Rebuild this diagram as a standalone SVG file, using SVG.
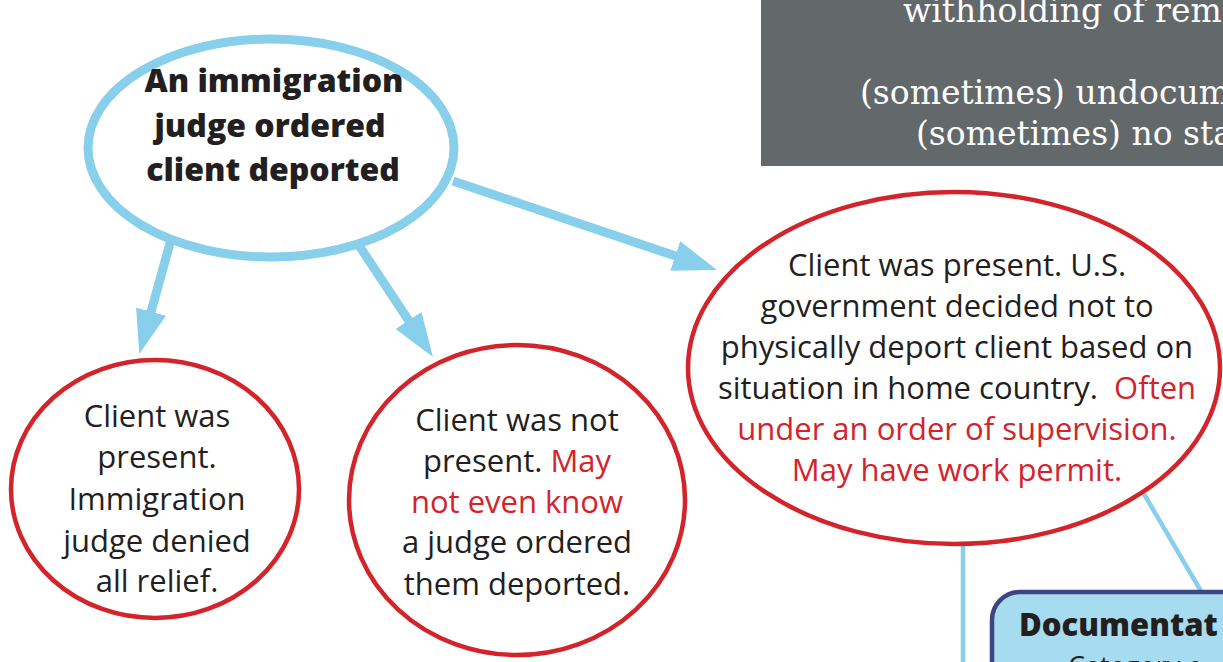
<svg xmlns="http://www.w3.org/2000/svg" width="1223" height="662" viewBox="0 0 1223 662">
<style>
.bg{fill:#ffffff}
.blue-ell{fill:#ffffff;stroke:#88cfeb;stroke-width:9}
.red-ell{fill:#ffffff;stroke:#d3242b;stroke-width:4.5}
.arrow{stroke:#88cfeb;stroke-width:9;fill:none}
.link{stroke:#88cfeb;stroke-width:4.5;fill:none}
.t{font-family:"Open Sans","Noto Sans",sans-serif;font-size:31px;fill:#231f20;text-anchor:middle}
.tb{font-family:"Open Sans","Noto Sans",sans-serif;font-size:32px;font-weight:800;fill:#231f20;text-anchor:middle}
.red{fill:#d3242b}
.grey{fill:#63686b}
.gt{font-family:"DejaVu Serif","Liberation Serif",serif;font-size:33px;fill:#ffffff}
.doc{fill:#a7dbf0;stroke:#3b4683;stroke-width:4.5}
</style>
<defs>
<marker id="ah" markerUnits="userSpaceOnUse" markerWidth="46" markerHeight="32" refX="2" refY="15.5" orient="auto" viewBox="0 0 46 32">
<path d="M0,0 L44,15.5 L0,31 Z" fill="#88cfeb"/>
</marker>
</defs>
<rect class="bg" x="0" y="0" width="1223" height="662"/>

<g id="status-box">
<rect class="grey" x="761" y="-10" width="480" height="176"/>
<text class="gt" x="903" y="22">withholding of rem</text>
<text class="gt" x="860" y="104">(sometimes) undocum</text>
<text class="gt" x="916" y="145">(sometimes) no sta</text>
</g>

<g id="connectors">
<line class="arrow" x1="172" y1="236" x2="150.5" y2="313.6" marker-end="url(#ah)"/>
<line class="arrow" x1="356" y1="241" x2="409.7" y2="322.1" marker-end="url(#ah)"/>
<line class="arrow" x1="453" y1="181" x2="677.2" y2="256.6" marker-end="url(#ah)"/>
<line class="link" x1="963" y1="540" x2="963" y2="670"/>
<line class="link" x1="1144" y1="494" x2="1205" y2="598"/>
</g>

<g id="node-ordered">
<ellipse class="blue-ell" cx="271" cy="148" rx="183" ry="109"/>
<text class="tb" x="274" y="92">An immigration</text>
<text class="tb" x="270" y="137">judge ordered</text>
<text class="tb" x="273" y="181">client deported</text>
</g>

<g id="node-denied">
<ellipse class="red-ell" cx="155" cy="489" rx="144" ry="129"/>
<text class="t" x="157" y="427">Client was</text>
<text class="t" x="157" y="468">present.</text>
<text class="t" x="157" y="510">Immigration</text>
<text class="t" x="157" y="552">judge denied</text>
<text class="t" x="157" y="592">all relief.</text>
</g>

<g id="node-absent">
<ellipse class="red-ell" cx="517" cy="500" rx="168" ry="155"/>
<text class="t" x="517" y="431">Client was not</text>
<text class="t" x="517" y="472">present. <tspan class="red">May</tspan></text>
<text class="t red" x="517" y="513">not even know</text>
<text class="t" x="517" y="553">a judge ordered</text>
<text class="t" x="517" y="595">them deported.</text>
</g>

<g id="node-supervision">
<ellipse class="red-ell" cx="954" cy="368" rx="266" ry="176"/>
<text class="t" x="957" y="276">Client was present. U.S.</text>
<text class="t" x="957" y="317">government decided not to</text>
<text class="t" x="957" y="358">physically deport client based on</text>
<text class="t" x="957" y="399" xml:space="preserve">situation in home country.  <tspan class="red">Often</tspan></text>
<text class="t red" x="957" y="440">under an order of supervision.</text>
<text class="t red" x="957" y="481">May have work permit.</text>
</g>

<g id="node-documentation">
<rect class="doc" x="992" y="592" width="400" height="200" rx="28"/>
<text font-family="Open Sans, Noto Sans, sans-serif" font-weight="800" font-size="31" fill="#231f20" x="1019" y="636">Documentat</text>
<text font-family="Open Sans, Noto Sans, sans-serif" font-size="27" fill="#231f20" x="1068" y="676">Category o</text>
</g>
</svg>
